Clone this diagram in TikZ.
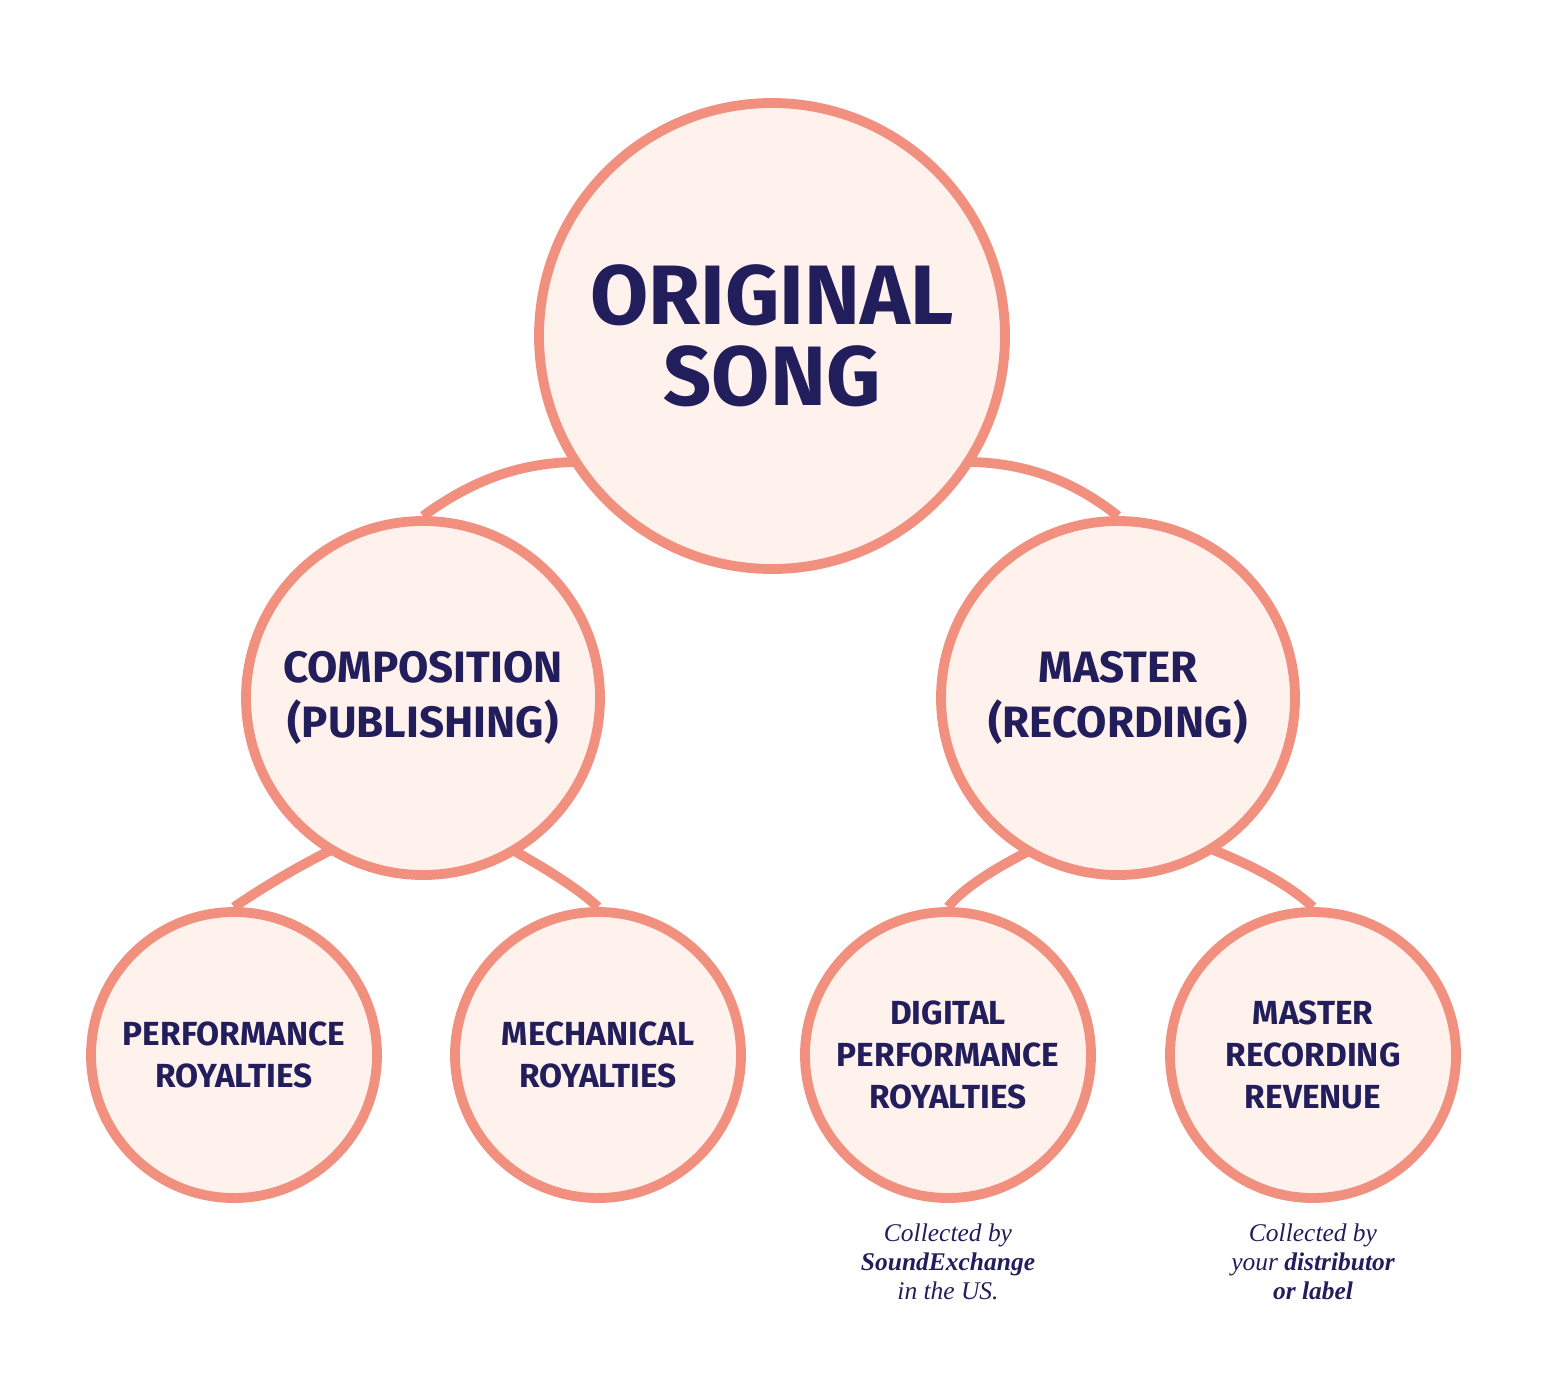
\documentclass[tikz,border=0pt]{standalone}
\usepackage{fontspec}
\setmainfont{Liberation Serif}
\newfontfamily\headfont{Fira Sans}
\usetikzlibrary{backgrounds}
\definecolor{salmon}{HTML}{F2907F}
\definecolor{cream}{HTML}{FFF1EB}
\definecolor{navy}{HTML}{221E5C}
\begin{document}
\begin{tikzpicture}[x=0.02cm,y=-0.02cm,
  bubble/.style={circle,draw=salmon,fill=cream,line width=5.6pt,inner sep=0pt,text=navy,align=center},
  link/.style={draw=salmon,line width=5.6pt},
  note/.style={text=navy,align=center,font=\fontsize{14.5}{16.5}\selectfont\itshape}]
\useasboundingbox (0,0) rectangle (1548,1373);
\node[bubble,minimum size=466*0.02cm,font=\headfont\bfseries\fontsize{48}{46}\selectfont] (top) at (772,336) {ORIGINAL\\SONG};
\node[bubble,minimum size=354*0.02cm,font=\headfont\bfseries\fontsize{25}{31}\selectfont] (comp) at (423,698) {COMPOSITION\\(PUBLISHING)};
\node[bubble,minimum size=354*0.02cm,font=\headfont\bfseries\fontsize{25}{31}\selectfont] (mast) at (1118,698) {MASTER\\(RECORDING)};
\node[bubble,minimum size=286*0.02cm,font=\headfont\bfseries\fontsize{19}{24}\selectfont] (perf) at (234,1055) {PERFORMANCE\\ROYALTIES};
\node[bubble,minimum size=286*0.02cm,font=\headfont\bfseries\fontsize{19}{24}\selectfont] (mech) at (598,1055) {MECHANICAL\\ROYALTIES};
\node[bubble,minimum size=286*0.02cm,font=\headfont\bfseries\fontsize{19}{24}\selectfont] (dig) at (948,1055) {DIGITAL\\PERFORMANCE\\ROYALTIES};
\node[bubble,minimum size=286*0.02cm,font=\headfont\bfseries\fontsize{19}{24}\selectfont] (rev) at (1313,1055) {MASTER\\RECORDING\\REVENUE};
\begin{scope}[on background layer]
\draw[link] (comp.90) .. controls (470,482) and (520,460) .. (590,462) -- (top.center);
\draw[link] (mast.90) .. controls (1075,482) and (1025,460) .. (955,462) -- (top.center);
\draw[link] (perf.90) .. controls (265,886) and (300,865) .. (345,843) -- (comp.center);
\draw[link] (mech.90) .. controls (575,886) and (540,865) .. (500,843) -- (comp.center);
\draw[link] (dig.90) .. controls (965,886) and (1000,865) .. (1045,843) -- (mast.center);
\draw[link] (rev.90) .. controls (1290,886) and (1255,865) .. (1195,843) -- (mast.center);
\end{scope}
\node[note,anchor=north] (n1) at ([yshift=-0.3cm]dig.south) {Collected by\\\textbf{SoundExchange}\\in the US.};
\node[note,anchor=north] (n2) at ([yshift=-0.3cm]rev.south) {Collected by\\your \textbf{distributor}\\\textbf{or label}};
\end{tikzpicture}
\end{document}
